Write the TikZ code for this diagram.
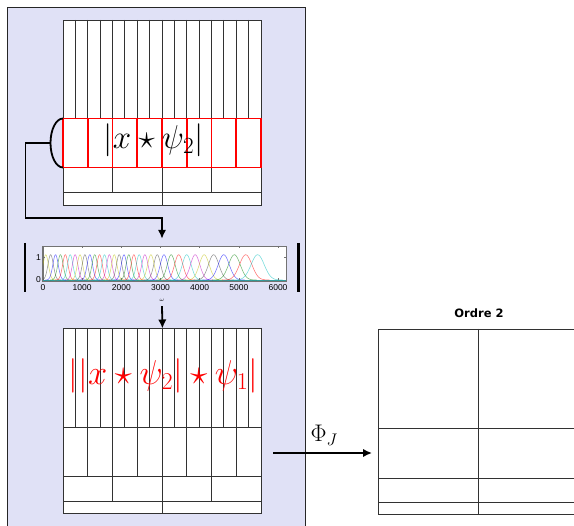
\documentclass[tikz,border=0pt]{standalone}
\usepackage{fix-cm}
\usepackage{fontspec}
\setsansfont{Liberation Sans}
\newfontfamily\titlefont{DejaVu Sans}
\usetikzlibrary{arrows.meta,calc}

\definecolor{panelblue}{RGB}{224,225,246}
\definecolor{gridgray}{RGB}{50,50,50}
% filter colours (classic MATLAB order)
\definecolor{mc0}{rgb}{0,0,1}
\definecolor{mc1}{rgb}{0,0.5,0}
\definecolor{mc2}{rgb}{1,0,0}
\definecolor{mc3}{rgb}{0,0.75,0.75}
\definecolor{mc4}{rgb}{0.75,0,0.75}
\definecolor{mc5}{rgb}{0.75,0.75,0}
\definecolor{mc6}{rgb}{0.25,0.25,0.25}

\tikzset{
  panel/.style={draw=black!85, fill=panelblue, line width=1.2pt, inner sep=0pt},
  gridbox/.style={draw=gridgray, fill=white, line width=0.9pt, inner sep=0pt,
                  minimum width=198pt, minimum height=185pt},
  gridline/.style={draw=gridgray, line width=0.9pt},
  redline/.style={draw=red, line width=1.9pt},
  link/.style={draw=black, line width=1.8pt},
  arrowlink/.style={link, -{Latex[length=9pt,width=8.5pt]}},
  curve/.style={line width=0.55pt, opacity=0.55},
  ticklabel/.style={font=\sffamily\fontsize{8.5}{9}\selectfont, inner sep=0pt},
  axesbox/.style={draw=black!55, fill=white, line width=0.5pt, inner sep=0pt},
  normbar/.style={line width=2.6pt},
}

% scattering grid: 16 / 8 / 4 / 2 cells per band
\newcommand{\scatgrid}[3]{%
  \node[gridbox, anchor=north west] (#3) at (#1,#2) {};
  \foreach \k in {1,...,15}
    \draw[gridline] ({#1+\k*12.375},#2) -- ({#1+\k*12.375},{#2+98.5});
  \foreach \k in {1,...,7}
    \draw[gridline] ({#1+\k*24.75},{#2+98.5}) -- ({#1+\k*24.75},{#2+147.5});
  \foreach \k in {1,2,3}
    \draw[gridline] ({#1+\k*49.5},{#2+147.5}) -- ({#1+\k*49.5},{#2+172.5});
  \draw[gridline] ({#1+99},{#2+172.5}) -- ({#1+99},{#2+185});
  \foreach \h in {98.5,147.5,172.5}
    \draw[gridline] (#1,{#2+\h}) -- ({#1+198},{#2+\h});
}

\begin{document}
\begin{tikzpicture}[x=1pt, y=-1pt]
\clip (0,0) rectangle (574,526);
\fill[white] (0,0) rectangle (574,526);

% left panel
\node[panel, anchor=north west, minimum width=298pt, minimum height=545pt] (panel) at (7,7) {};

% first-order grid with highlighted band
\scatgrid{63}{20}{gtop}
\draw[redline] (63,118.5) rectangle (261,167.5);
\foreach \k in {1,...,7}
  \draw[redline] ({63+\k*24.75},118.5) -- ({63+\k*24.75},167.5);
\node[inner sep=0pt, font=\fontsize{33}{40}\selectfont] (modone) at (153.5,140.5) {$|x\star\psi_2|$};

% brace on the highlighted band
\coordinate (bandbot) at (63,167.5);
\coordinate (bracetip) at (50.5,143);
\draw[link] (bandbot) arc[start angle=90, end angle=270, x radius=12.5, y radius=24.5];

% filter bank plot
\node[minimum width=280pt, minimum height=67pt, inner sep=0pt] (fbank) at (162,272.5) {};
\node[axesbox, anchor=north west, minimum width=243pt, minimum height=34.5pt] (axes) at (42.5,246) {};
\begin{scope}
  \clip (axes.south west) rectangle (axes.north east);
  \draw[mc3, curve] (43,280) -- (286,280);
  \foreach \c [count=\i] in {70,195,320,445,570,695,820,945,1070,1195,1320,1445,1570,1695,1820,1945,
      2068,2190,2320,2456,2601,2755,2917,3089,3272,3465,3669,3885,4115,4357,4614,4886,5175,5480} {
    \pgfmathsetmacro\s{max(69,0.0306*\c)}
    \pgfmathtruncatemacro\ci{mod(\i+4,7)}
    \draw[mc\ci, curve] plot[domain=-3.8:3.8, samples=41, smooth]
      ({43+(\c+\x*\s)*0.03917}, {280-25.3*exp(-0.5*\x*\x)});
  }
\end{scope}
\draw[axesbox, fill=none] (axes.south west) rectangle (axes.north east);
% ticks
\foreach \w in {1000,2000,...,6000} {
  \draw[black!55, line width=0.4pt] ({43+\w*0.03917},280.5) -- ++(0,-2);
  \draw[black!55, line width=0.4pt] ({43+\w*0.03917},246) -- ++(0,2);
}
\draw[black!55, line width=0.4pt] (42.5,257) -- ++(2,0);
\draw[black!55, line width=0.4pt] (285.5,257) -- ++(-2,0);
\foreach \w in {0,1000,...,6000}
  \node[ticklabel] at ({43+\w*0.03917},288) {\w};
\node[ticklabel, anchor=east] at (41,257.5) {1};
\node[ticklabel, anchor=east] at (41,280) {0};
\node[inner sep=0pt, font=\fontsize{5.5}{6}\selectfont] at (162,300.5) {$\omega$};
\draw[normbar] (25,243) -- (25,292);
\draw[normbar] (298.3,243) -- (298.3,292);

% second-order grid
\scatgrid{63}{328.5}{gmid}
\node[inner sep=0pt, text=red, font=\fontsize{34.5}{40}\selectfont] (modtwo) at (163.5,376) {$||x\star\psi_2|\star\psi_1|$};

% output grid
\node[gridbox, anchor=north west, minimum width=200pt] (gout) at (378,329) {};
\foreach \h in {99,149,173}
  \draw[gridline] (378,{329+\h}) -- (578,{329+\h});
\draw[gridline] (478,329) -- (478,514);
\node[inner sep=0pt, font=\titlefont\bfseries\fontsize{11.5}{13}\selectfont] (title) at (479,313) {Ordre 2};

% connectors
\draw[arrowlink] (bracetip) -| (25.5,218) -| (fbank.north);
\draw[arrowlink] (fbank.south) -- (gmid.north);
\coordinate (phistart) at (273,453);
\draw[arrowlink, shorten >=6pt] (phistart) -- (phistart -| gout.west);
\node[inner sep=0pt, anchor=base west, font=\fontsize{24}{28}\selectfont] (phi) at (310.5,442) {$\Phi_J$};
\end{tikzpicture}
\end{document}
